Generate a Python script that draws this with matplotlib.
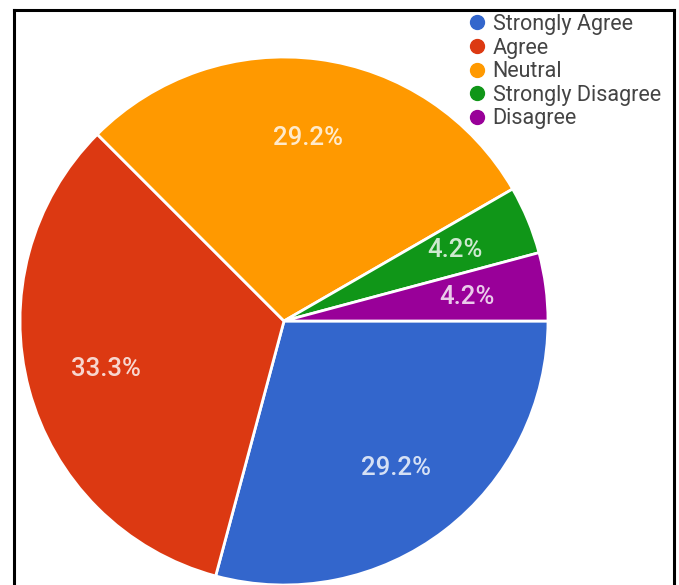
import matplotlib.pyplot as plt
from matplotlib.lines import Line2D

# survey answers (counts out of 24 responses)
labels = ["Strongly Agree", "Agree", "Neutral", "Strongly Disagree", "Disagree"]
counts = [7, 8, 7, 1, 1]
colors = ["#3366cc", "#dc3912", "#ff9900", "#109618", "#990099"]

W, H = 679, 585
fig = plt.figure(figsize=(W / 100, H / 100), dpi=100)

# pie axes: square box, center (284, 321) px, radius 264 px
cx, cy, r = 284, 321, 264
ax = fig.add_axes([(cx - r) / W, (H - cy - r) / H, 2 * r / W, 2 * r / H])
wedges, texts, autotexts = ax.pie(
    counts, colors=colors, startangle=0, counterclock=False,
    autopct="%1.1f%%", pctdistance=0.70, radius=1,
    wedgeprops=dict(edgecolor="white", linewidth=2),
    textprops=dict(color="white", fontsize=18.5, family="Roboto",
                   weight="medium", alpha=0.8),
)
ax.set_xlim(-1, 1)
ax.set_ylim(-1, 1)
ax.set_aspect("equal")
ax.axis("off")

handles = [Line2D([], [], marker="o", linestyle="", markersize=10,
                  markerfacecolor=c, markeredgecolor=c) for c in colors]
fig.legend(handles, labels, loc="upper left",
           bbox_to_anchor=(455 / W, 1), frameon=False,
           prop=dict(family="Roboto", size=15.5), labelcolor="#444444",
           handlelength=0.75, handletextpad=0.35, labelspacing=0.12,
           borderpad=0.15)

# black frame around the chart (open at the bottom)
fig.add_artist(Line2D([14 / W, 14 / W], [0, 1 - 10 / H], color="black",
                      linewidth=2.2, transform=fig.transFigure))
fig.add_artist(Line2D([14 / W, 674 / W], [1 - 10 / H, 1 - 10 / H], color="black",
                      linewidth=2.2, transform=fig.transFigure))
fig.add_artist(Line2D([674 / W, 674 / W], [0, 1 - 10 / H], color="black",
                      linewidth=2.2, transform=fig.transFigure))

fig.savefig("out.png", dpi=100)
